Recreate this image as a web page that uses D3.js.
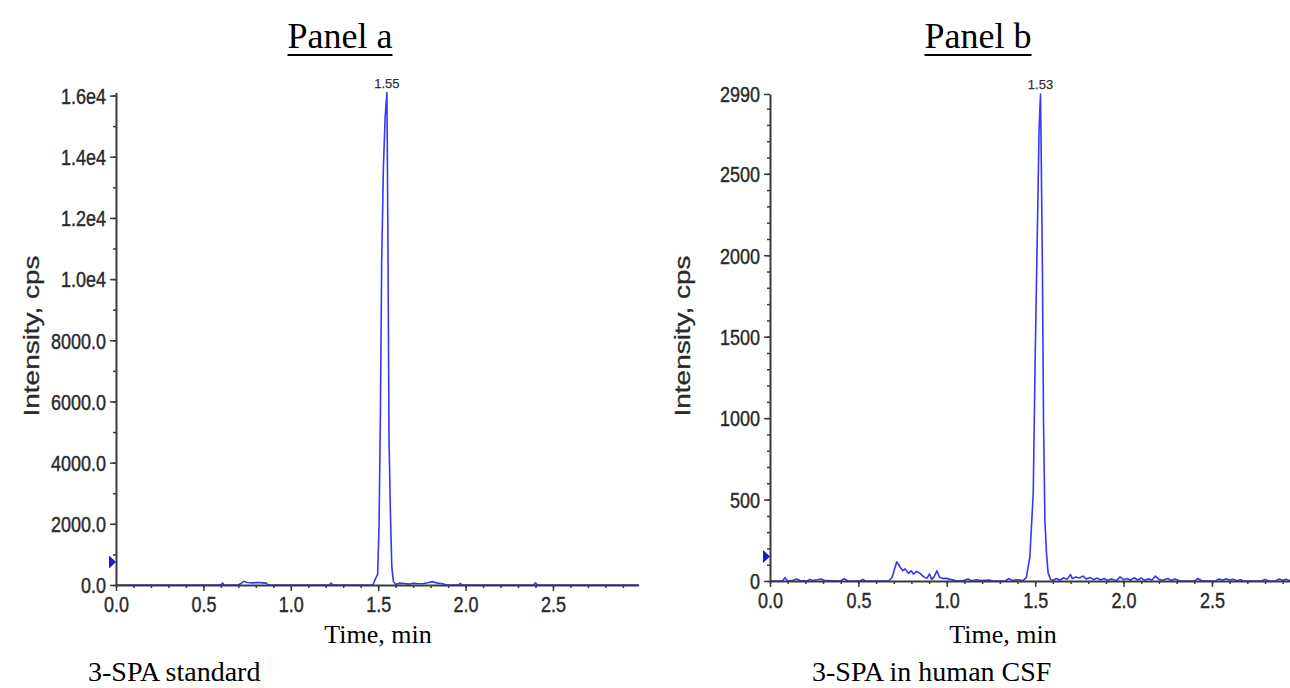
<!DOCTYPE html>
<html>
<head>
<meta charset="utf-8">
<script src="https://cdn.jsdelivr.net/npm/d3@7"></script>
<style>
  html, body { margin: 0; padding: 0; background: #ffffff; }
  svg { display: block; }
</style>
</head>
<body>
<svg id="chart" width="1290" height="688"></svg>
<script>
// ---- Chromatogram traces: [time (min), intensity (cps)] ----
const traceA = [
  [0.00,0],[0.60,0],[0.61,60],[0.62,0],[0.70,0],[0.72,70],[0.73,120],[0.75,80],[0.78,70],
  [0.81,80],[0.84,70],[0.86,60],[0.87,0],[1.22,0],[1.23,60],[1.24,0],[1.47,0],[1.48,150],
  [1.497,350],[1.505,1950],[1.513,5670],[1.520,10540],[1.530,13680],[1.540,15300],
  [1.550,16100],[1.556,11090],[1.562,4820],[1.570,2350],[1.578,590],[1.587,120],[1.599,20],
  [1.62,60],[1.65,50],[1.68,30],[1.70,60],[1.73,40],[1.76,50],[1.79,80],[1.81,110],
  [1.84,60],[1.87,40],[1.89,0],[1.96,0],[1.97,50],[1.98,0],[2.39,0],[2.40,70],[2.41,0],[2.99,0]
];

const traceB = [
  [0.00,0],[0.07,0],[0.085,20],[0.10,0],[0.13,5],[0.15,12],[0.17,3],[0.21,0],[0.225,10],
  [0.24,3],[0.27,8],[0.29,12],[0.31,2],[0.40,0],[0.42,15],[0.44,0],[0.51,0],[0.525,10],
  [0.54,0],[0.67,0],[0.69,20],[0.717,118],[0.736,86],[0.751,63],[0.764,74],[0.783,47],
  [0.798,63],[0.811,43],[0.830,59],[0.849,47],[0.868,27],[0.887,16],[0.902,43],[0.915,10],
  [0.929,27],[0.944,63],[0.959,23],[0.972,16],[1.00,16],[1.02,10],[1.06,0],[1.10,5],
  [1.12,12],[1.14,2],[1.17,8],[1.19,3],[1.24,6],[1.26,0],[1.33,0],[1.35,15],[1.37,4],
  [1.40,8],[1.43,3],[1.45,20],[1.470,150],[1.489,540],[1.500,1370],[1.515,2320],
  [1.522,2770],[1.530,2990],[1.534,2630],[1.541,1910],[1.547,990],[1.555,375],[1.564,170],
  [1.573,50],[1.587,10],[1.60,3],[1.62,15],[1.64,5],[1.66,20],[1.68,10],[1.70,40],[1.71,15],
  [1.73,25],[1.75,18],[1.77,30],[1.79,12],[1.81,22],[1.83,8],[1.85,18],[1.87,6],[1.89,15],
  [1.91,4],[1.93,12],[1.96,3],[1.98,25],[2.00,8],[2.02,15],[2.04,5],[2.06,20],[2.08,6],
  [2.10,18],[2.12,4],[2.14,14],[2.16,6],[2.18,30],[2.20,10],[2.22,4],[2.25,15],[2.27,3],
  [2.29,12],[2.32,0],[2.40,0],[2.42,15],[2.44,3],[2.46,0],[2.52,0],[2.54,12],[2.56,4],
  [2.58,14],[2.60,6],[2.62,10],[2.64,2],[2.66,8],[2.68,0],[2.78,0],[2.80,10],[2.82,0],
  [2.86,0],[2.88,12],[2.90,4],[2.92,10],[2.94,2],[2.96,8],[2.99,3]
];

// ---- Axis ticks and labels ----
const xTicks = [0.0, 0.5, 1.0, 1.5, 2.0, 2.5];
const xMinorTicks = d3.range(0, 30).map(i => i / 10);
const yTicksA = [0, 2000, 4000, 6000, 8000, 10000, 12000, 14000, 16000];
const yTickLabelsA = ["0.0","2000.0","4000.0","6000.0","8000.0","1.0e4","1.2e4","1.4e4","1.6e4"];
const yMinorA = d3.range(0, 17).map(i => i * 1000);
const yTicksB = [0, 500, 1000, 1500, 2000, 2500, 2990];
const yTickLabelsB = ["0","500","1000","1500","2000","2500","2990"];
const yMinorB = d3.range(0, 30).map(i => i * 100);

// Peak apex annotations and threshold markers
const peakTimes = [1.55, 1.53];
const peakValues = [16100, 2990];
const thresholdLevels = [750, 150];

const titles = ["Panel a", "Panel b"];
const captions = ["3-SPA standard", "3-SPA in human CSF"];
const xTitle = "Time, min";
const yTitle = "Intensity, cps";

const svg = d3.select("#chart");
svg.append("rect").attr("width", 1290).attr("height", 688).attr("fill", "#fff");

const panels = [
  {
    trace: traceA, yTicks: yTicksA, yLabels: yTickLabelsA, yMinor: yMinorA,
    x: d3.scaleLinear().domain([0, 2.99]).range([116, 638.6]),
    y: d3.scaleLinear().domain([0, 16100]).range([585, 92.5]),
    title: titles[0], titleX: 340, caption: captions[0], captionX: 88,
    xTitleX: 378, yTitleX: 39, peak: 0, threshold: thresholdLevels[0]
  },
  {
    trace: traceB, yTicks: yTicksB, yLabels: yTickLabelsB, yMinor: yMinorB,
    x: d3.scaleLinear().domain([0, 2.99]).range([770, 1298.6]),
    y: d3.scaleLinear().domain([0, 2990]).range([581, 94]),
    title: titles[1], titleX: 978, caption: captions[1], captionX: 812,
    xTitleX: 1003, yTitleX: 690, peak: 1, threshold: thresholdLevels[1]
  }
];

const axisColor = "#3a3a3a";
const labelColor = "#2a2a2a";
const lineColor = "#3535ff";
const sansFont = "'Liberation Sans', Arial, sans-serif";
const serifFont = "'Liberation Serif', 'Times New Roman', serif";

panels.forEach(p => {
  const g = svg.append("g");
  const x0 = p.x.range()[0];
  const yBase = p.y(0);

  // Trace
  const line = d3.line().x(d => p.x(d[0])).y(d => p.y(d[1]));
  g.append("path")
    .datum(p.trace)
    .attr("fill", "none")
    .attr("stroke", lineColor)
    .attr("stroke-width", 1.6)
    .attr("stroke-linejoin", "round")
    .attr("d", line);

  // X axis: minor ticks, then major ticks with labels
  const xMinorAxis = d3.axisBottom(p.x).tickValues(xMinorTicks).tickFormat("").tickSize(3).tickSizeOuter(0);
  const gxm = g.append("g").attr("transform", `translate(0,${yBase})`).call(xMinorAxis);
  gxm.select(".domain").remove();
  gxm.selectAll("line").attr("stroke", axisColor).attr("stroke-width", 1.5);

  const xAxis = d3.axisBottom(p.x).tickValues(xTicks).tickFormat(d3.format(".1f")).tickSize(6).tickSizeOuter(0);
  const gx = g.append("g").attr("transform", `translate(0,${yBase})`).call(xAxis);
  gx.select(".domain").attr("stroke", axisColor).attr("stroke-width", 2);
  gx.selectAll(".tick line").attr("stroke", axisColor).attr("stroke-width", 1.5);
  gx.selectAll(".tick text")
    .attr("font-family", sansFont)
    .attr("font-size", 18)
    .attr("fill", labelColor)
    .attr("stroke", labelColor)
    .attr("stroke-width", 0.35)
    .attr("y", 0)
    .attr("dy", 0)
    .attr("transform", "translate(0,27) scale(1,1.22)");

  // Y axis: minor ticks, then major ticks with labels
  const yMinorAxis = d3.axisLeft(p.y).tickValues(p.yMinor).tickFormat("").tickSize(3).tickSizeOuter(0);
  const gym = g.append("g").attr("transform", `translate(${x0},0)`).call(yMinorAxis);
  gym.select(".domain").remove();
  gym.selectAll("line").attr("stroke", axisColor).attr("stroke-width", 1.5);

  const yAxis = d3.axisLeft(p.y).tickValues(p.yTicks)
    .tickFormat((d, i) => p.yLabels[i]).tickSize(6).tickSizeOuter(0).tickPadding(4);
  const gy = g.append("g").attr("transform", `translate(${x0},0)`).call(yAxis);
  gy.select(".domain").attr("stroke", axisColor).attr("stroke-width", 2);
  gy.selectAll(".tick line").attr("stroke", axisColor).attr("stroke-width", 1.5);
  gy.selectAll(".tick text")
    .attr("font-family", sansFont)
    .attr("font-size", 18)
    .attr("fill", labelColor)
    .attr("stroke", labelColor)
    .attr("stroke-width", 0.35)
    .attr("dy", "0.36em")
    .attr("transform", "scale(1,1.2)");

  // Threshold marker on the y axis
  const ty = p.y(p.threshold);
  g.append("path")
    .attr("d", `M${x0 - 7},${ty - 6.5} L${x0},${ty} L${x0 - 7},${ty + 6.5} Z`)
    .attr("fill", "#1a1acc");

  // Peak retention-time label
  const pt = peakTimes[p.peak], pv = peakValues[p.peak];
  g.append("text")
    .attr("x", p.x(pt))
    .attr("y", p.y(pv) - 5)
    .attr("text-anchor", "middle")
    .attr("font-family", sansFont)
    .attr("font-size", 13)
    .attr("fill", "#333")
    .attr("stroke", "#333")
    .attr("stroke-width", 0.25)
    .text(d3.format(".2f")(pt));

  // Axis titles
  g.append("text")
    .attr("x", p.xTitleX)
    .attr("y", 643)
    .attr("text-anchor", "middle")
    .attr("font-family", serifFont)
    .attr("font-size", 26)
    .attr("fill", "#000")
    .text(xTitle);

  g.append("text")
    .attr("transform", `translate(${p.yTitleX},336) rotate(-90) scale(1.27,1)`)
    .attr("text-anchor", "middle")
    .attr("font-family", sansFont)
    .attr("font-size", 22)
    .attr("fill", labelColor)
    .attr("stroke", labelColor)
    .attr("stroke-width", 0.3)
    .text(yTitle);

  // Panel title with underline
  const t = g.append("text")
    .attr("x", p.titleX)
    .attr("y", 48)
    .attr("text-anchor", "middle")
    .attr("font-family", serifFont)
    .attr("font-size", 36)
    .attr("fill", "#000")
    .text(p.title);
  const tw = t.node().getComputedTextLength();
  g.append("line")
    .attr("x1", p.titleX - tw / 2).attr("x2", p.titleX + tw / 2)
    .attr("y1", 55).attr("y2", 55)
    .attr("stroke", "#000").attr("stroke-width", 2);

  // Caption under the panel
  g.append("text")
    .attr("x", p.captionX)
    .attr("y", 681)
    .attr("font-family", serifFont)
    .attr("font-size", 28)
    .attr("fill", "#000")
    .text(p.caption);
});
</script>
</body>
</html>
